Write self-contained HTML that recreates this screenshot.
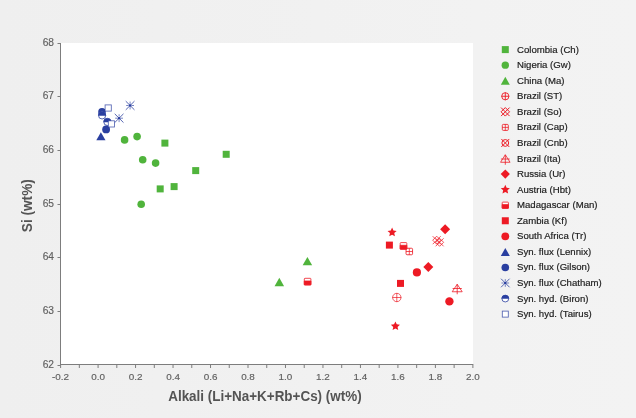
<!DOCTYPE html>
<html><head><meta charset="utf-8"><style>
html,body{margin:0;padding:0;background:#efefef;}
svg{display:block;font-family:"Liberation Sans",sans-serif;will-change:transform;}
</style></head><body>
<svg width="636" height="418" viewBox="0 0 636 418">
<defs><linearGradient id="bg" x1="0" y1="0" x2="1" y2="0"><stop offset="0" stop-color="#efefef"/><stop offset="1" stop-color="#f3f3f3"/></linearGradient></defs>
<rect width="636" height="418" fill="url(#bg)"/>
<rect x="61" y="43" width="412" height="322" fill="#fff"/>
<rect x="161.40" y="139.60" width="7" height="7" fill="#50b43c"/>
<rect x="222.70" y="150.80" width="7" height="7" fill="#50b43c"/>
<rect x="192.20" y="167.10" width="7" height="7" fill="#50b43c"/>
<rect x="170.60" y="183.10" width="7" height="7" fill="#50b43c"/>
<rect x="156.70" y="185.40" width="7" height="7" fill="#50b43c"/>
<circle cx="124.60" cy="139.90" r="3.8" fill="#50b43c"/>
<circle cx="137.10" cy="136.60" r="3.8" fill="#50b43c"/>
<circle cx="142.70" cy="159.70" r="3.8" fill="#50b43c"/>
<circle cx="155.60" cy="163.10" r="3.8" fill="#50b43c"/>
<circle cx="141.20" cy="204.20" r="3.8" fill="#50b43c"/>
<path d="M307.40 256.95L312.15 265.25L302.65 265.25Z" fill="#50b43c"/>
<path d="M279.30 277.85L284.05 286.15L274.55 286.15Z" fill="#50b43c"/>
<rect x="304.30" y="278.30" width="6.60" height="6.60" rx="0.7" fill="#fff" stroke="#ed1a24" stroke-width="0.8"/><path d="M304.30 281.00H310.90V284.90H304.30Z" fill="#ed1a24" stroke="#ed1a24" stroke-width="0.8"/>
<polygon points="392.10,227.60 393.43,230.57 396.67,230.92 394.25,233.10 394.92,236.28 392.10,234.66 389.28,236.28 389.95,233.10 387.53,230.92 390.77,230.57" fill="#ed1a24"/>
<rect x="385.90" y="241.60" width="7" height="7" fill="#ed1a24"/>
<rect x="400.20" y="242.60" width="6.60" height="6.60" rx="0.7" fill="#fff" stroke="#ed1a24" stroke-width="0.8"/><path d="M400.20 245.30H406.80V249.20H400.20Z" fill="#ed1a24" stroke="#ed1a24" stroke-width="0.8"/>
<rect x="406.05" y="248.25" width="6.50" height="6.50" rx="1" fill="none" stroke="#ed1a24" stroke-width="0.85"/><path d="M409.30 248.25V254.75M406.05 251.50H412.55" stroke="#ed1a24" stroke-width="0.75"/>
<path d="M445.10 224.30L450.10 229.30L445.10 234.30L440.10 229.30Z" fill="#ed1a24"/>
<path d="M432.70 236.20L440.70 244.20M440.70 236.20L432.70 244.20M432.70 240.20L436.70 244.20L440.70 240.20L436.70 236.20Z" fill="none" stroke="#ed1a24" stroke-width="0.75"/>
<path d="M435.60 238.30L443.60 246.30M443.60 238.30L435.60 246.30M435.60 242.30L439.60 246.30L443.60 242.30L439.60 238.30Z" fill="none" stroke="#ed1a24" stroke-width="0.75"/>
<path d="M428.30 262.10L433.30 267.10L428.30 272.10L423.30 267.10Z" fill="#ed1a24"/>
<circle cx="416.90" cy="272.40" r="4.1" fill="#ed1a24"/>
<rect x="397.00" y="279.90" width="7" height="7" fill="#ed1a24"/>
<circle cx="396.80" cy="297.50" r="4.2" fill="none" stroke="#ed1a24" stroke-width="0.7"/><path d="M392.30 297.50H401.30M396.80 293.00V302.00" stroke="#ed1a24" stroke-width="0.7"/>
<path d="M457.20 284.25L462.20 291.75H452.20Z" fill="none" stroke="#ed1a24" stroke-width="0.8" stroke-linejoin="round"/><path d="M457.20 284.25V294.25M452.60 288.50H461.80" stroke="#ed1a24" stroke-width="0.8"/>
<circle cx="449.40" cy="301.40" r="4.2" fill="#ed1a24"/>
<polygon points="395.40,321.40 396.73,324.37 399.97,324.72 397.55,326.90 398.22,330.08 395.40,328.46 392.58,330.08 393.25,326.90 390.83,324.72 394.07,324.37" fill="#ed1a24"/>
<path d="M125.73 101.13L134.47 109.87M134.47 101.13L125.73 109.87" stroke="#2a3fa0" stroke-width="0.8"/><path d="M126.19 105.50H128.50M131.70 105.50H134.01M130.10 101.59V103.90M130.10 107.10V109.41" stroke="#2a3fa0" stroke-width="0.8" stroke-opacity="0.8"/><circle cx="130.10" cy="105.50" r="1.3" fill="#2a3fa0"/>
<path d="M114.73 113.83L123.47 122.57M123.47 113.83L114.73 122.57" stroke="#2a3fa0" stroke-width="0.8"/><path d="M115.19 118.20H117.50M120.70 118.20H123.01M119.10 114.29V116.60M119.10 119.80V122.11" stroke="#2a3fa0" stroke-width="0.8" stroke-opacity="0.8"/><circle cx="119.10" cy="118.20" r="1.3" fill="#2a3fa0"/>
<circle cx="102.00" cy="111.90" r="3.8" fill="#2a3fa0"/>
<circle cx="102.10" cy="115.40" r="3.60" fill="#fff" stroke="#2a3fa0" stroke-width="0.8"/><path d="M98.10 115.70A4.0 4.0 0 0 1 106.10 115.70Z" fill="#2a3fa0"/>
<rect x="105.10" y="104.90" width="6.20" height="6.20" fill="#fff" stroke="#2a3fa0" stroke-width="0.85" stroke-opacity="0.8"/>
<circle cx="107.40" cy="121.90" r="3.60" fill="#fff" stroke="#2a3fa0" stroke-width="0.8"/><path d="M103.40 122.20A4.0 4.0 0 0 1 111.40 122.20Z" fill="#2a3fa0"/>
<circle cx="106.10" cy="129.40" r="3.9" fill="#2a3fa0"/>
<rect x="108.30" y="120.80" width="6.20" height="6.20" fill="#fff" stroke="#2a3fa0" stroke-width="0.85" stroke-opacity="0.8"/>
<path d="M100.90 132.25L105.50 140.35L96.30 140.35Z" fill="#2a3fa0"/>
<path d="M60.5 43V365M60 364.5H473.3" stroke="#7d7d7d" stroke-width="1" fill="none"/>
<path d="M57.5 43.50H60.5M57.5 96.50H60.5M57.5 150.50H60.5M57.5 204.50H60.5M57.5 257.50H60.5M57.5 311.50H60.5M57.5 365.50H60.5M60.60 364.5V368M79.34 364.5V368M98.08 364.5V368M116.82 364.5V368M135.56 364.5V368M154.30 364.5V368M173.04 364.5V368M191.78 364.5V368M210.52 364.5V368M229.26 364.5V368M248.00 364.5V368M266.74 364.5V368M285.48 364.5V368M304.22 364.5V368M322.96 364.5V368M341.70 364.5V368M360.44 364.5V368M379.18 364.5V368M397.92 364.5V368M416.66 364.5V368M435.40 364.5V368M454.14 364.5V368M472.88 364.5V368" stroke="#7d7d7d" stroke-width="1" fill="none"/>
<text x="54" y="45.50" text-anchor="end" font-size="10.2" fill="#606060" stroke="#606060" stroke-width="0.15">68</text>
<text x="54" y="99.20" text-anchor="end" font-size="10.2" fill="#606060" stroke="#606060" stroke-width="0.15">67</text>
<text x="54" y="152.90" text-anchor="end" font-size="10.2" fill="#606060" stroke="#606060" stroke-width="0.15">66</text>
<text x="54" y="206.60" text-anchor="end" font-size="10.2" fill="#606060" stroke="#606060" stroke-width="0.15">65</text>
<text x="54" y="260.30" text-anchor="end" font-size="10.2" fill="#606060" stroke="#606060" stroke-width="0.15">64</text>
<text x="54" y="314.00" text-anchor="end" font-size="10.2" fill="#606060" stroke="#606060" stroke-width="0.15">63</text>
<text x="54" y="367.70" text-anchor="end" font-size="10.2" fill="#606060" stroke="#606060" stroke-width="0.15">62</text>
<text x="60.60" y="379.6" text-anchor="middle" font-size="9.9" fill="#606060" stroke="#606060" stroke-width="0.15">-0.2</text>
<text x="98.08" y="379.6" text-anchor="middle" font-size="9.9" fill="#606060" stroke="#606060" stroke-width="0.15">0.0</text>
<text x="135.56" y="379.6" text-anchor="middle" font-size="9.9" fill="#606060" stroke="#606060" stroke-width="0.15">0.2</text>
<text x="173.04" y="379.6" text-anchor="middle" font-size="9.9" fill="#606060" stroke="#606060" stroke-width="0.15">0.4</text>
<text x="210.52" y="379.6" text-anchor="middle" font-size="9.9" fill="#606060" stroke="#606060" stroke-width="0.15">0.6</text>
<text x="248.00" y="379.6" text-anchor="middle" font-size="9.9" fill="#606060" stroke="#606060" stroke-width="0.15">0.8</text>
<text x="285.48" y="379.6" text-anchor="middle" font-size="9.9" fill="#606060" stroke="#606060" stroke-width="0.15">1.0</text>
<text x="322.96" y="379.6" text-anchor="middle" font-size="9.9" fill="#606060" stroke="#606060" stroke-width="0.15">1.2</text>
<text x="360.44" y="379.6" text-anchor="middle" font-size="9.9" fill="#606060" stroke="#606060" stroke-width="0.15">1.4</text>
<text x="397.92" y="379.6" text-anchor="middle" font-size="9.9" fill="#606060" stroke="#606060" stroke-width="0.15">1.6</text>
<text x="435.40" y="379.6" text-anchor="middle" font-size="9.9" fill="#606060" stroke="#606060" stroke-width="0.15">1.8</text>
<text x="472.88" y="379.6" text-anchor="middle" font-size="9.9" fill="#606060" stroke="#606060" stroke-width="0.15">2.0</text>
<text x="168.2" y="400.6" font-size="14" font-weight="bold" fill="#545454" textLength="193.5" lengthAdjust="spacingAndGlyphs">Alkali (Li+Na+K+Rb+Cs) (wt%)</text>
<text transform="translate(31.9 232.2) rotate(-90)" x="0" y="0" font-size="14" font-weight="bold" fill="#545454" textLength="53" lengthAdjust="spacingAndGlyphs">Si (wt%)</text>
<rect x="501.80" y="46.10" width="7" height="7" fill="#50b43c"/>
<text x="517" y="52.60" font-size="9.6" fill="#202020" stroke="#202020" stroke-width="0.18">Colombia (Ch)</text>
<circle cx="505.30" cy="65.16" r="3.7" fill="#50b43c"/>
<text x="517" y="68.16" font-size="9.6" fill="#202020" stroke="#202020" stroke-width="0.18">Nigeria (Gw)</text>
<path d="M505.30 76.72L509.80 84.72L500.80 84.72Z" fill="#50b43c"/>
<text x="517" y="83.72" font-size="9.6" fill="#202020" stroke="#202020" stroke-width="0.18">China (Ma)</text>
<circle cx="505.30" cy="96.28" r="3.6" fill="none" stroke="#ed1a24" stroke-width="0.9"/><path d="M501.40 96.28H509.20M505.30 92.38V100.18" stroke="#ed1a24" stroke-width="0.9"/>
<text x="517" y="99.28" font-size="9.6" fill="#202020" stroke="#202020" stroke-width="0.18">Brazil (ST)</text>
<path d="M501.05 107.59L509.55 116.09M509.55 107.59L501.05 116.09M501.05 111.84L505.30 116.09L509.55 111.84L505.30 107.59Z" fill="none" stroke="#ed1a24" stroke-width="1"/>
<text x="517" y="114.84" font-size="9.6" fill="#202020" stroke="#202020" stroke-width="0.18">Brazil (So)</text>
<rect x="502.30" y="124.40" width="6.00" height="6.00" rx="1" fill="none" stroke="#ed1a24" stroke-width="0.85"/><path d="M505.30 124.40V130.40M502.30 127.40H508.30" stroke="#ed1a24" stroke-width="0.75"/>
<text x="517" y="130.40" font-size="9.6" fill="#202020" stroke="#202020" stroke-width="0.18">Brazil (Cap)</text>
<path d="M501.30 138.96L509.30 146.96M509.30 138.96L501.30 146.96" fill="none" stroke="#ed1a24" stroke-width="1"/><circle cx="505.30" cy="142.96" r="3.40" fill="none" stroke="#ed1a24" stroke-width="1"/>
<text x="517" y="145.96" font-size="9.6" fill="#202020" stroke="#202020" stroke-width="0.18">Brazil (Cnb)</text>
<path d="M505.30 154.77L510.05 162.27H500.55Z" fill="none" stroke="#ed1a24" stroke-width="0.8" stroke-linejoin="round"/><path d="M505.30 154.77V164.77M500.95 159.02H509.65" stroke="#ed1a24" stroke-width="0.8"/>
<text x="517" y="161.52" font-size="9.6" fill="#202020" stroke="#202020" stroke-width="0.18">Brazil (Ita)</text>
<path d="M505.30 169.48L509.90 174.08L505.30 178.68L500.70 174.08Z" fill="#ed1a24"/>
<text x="517" y="177.08" font-size="9.6" fill="#202020" stroke="#202020" stroke-width="0.18">Russia (Ur)</text>
<polygon points="505.30,184.84 506.63,187.81 509.87,188.16 507.45,190.34 508.12,193.52 505.30,191.90 502.48,193.52 503.15,190.34 500.73,188.16 503.97,187.81" fill="#ed1a24"/>
<text x="517" y="192.64" font-size="9.6" fill="#202020" stroke="#202020" stroke-width="0.18">Austria (Hbt)</text>
<rect x="502.20" y="202.10" width="6.20" height="6.20" rx="0.7" fill="#fff" stroke="#ed1a24" stroke-width="0.8"/><path d="M502.20 204.60H508.40V208.30H502.20Z" fill="#ed1a24" stroke="#ed1a24" stroke-width="0.8"/>
<text x="517" y="208.20" font-size="9.6" fill="#202020" stroke="#202020" stroke-width="0.18">Madagascar (Man)</text>
<rect x="501.80" y="217.26" width="7" height="7" fill="#ed1a24"/>
<text x="517" y="223.76" font-size="9.6" fill="#202020" stroke="#202020" stroke-width="0.18">Zambia (Kf)</text>
<circle cx="505.30" cy="236.32" r="3.9" fill="#ed1a24"/>
<text x="517" y="239.32" font-size="9.6" fill="#202020" stroke="#202020" stroke-width="0.18">South Africa (Tr)</text>
<path d="M505.30 247.88L509.80 255.88L500.80 255.88Z" fill="#2a3fa0"/>
<text x="517" y="254.88" font-size="9.6" fill="#202020" stroke="#202020" stroke-width="0.18">Syn. flux (Lennix)</text>
<circle cx="505.30" cy="267.44" r="3.8" fill="#2a3fa0"/>
<text x="517" y="270.44" font-size="9.6" fill="#202020" stroke="#202020" stroke-width="0.18">Syn. flux (Gilson)</text>
<path d="M501.03 278.73L509.57 287.27M509.57 278.73L501.03 287.27" stroke="#2a3fa0" stroke-width="0.8"/><path d="M501.48 283.00H503.70M506.90 283.00H509.12M505.30 279.18V281.40M505.30 284.60V286.82" stroke="#2a3fa0" stroke-width="0.8" stroke-opacity="0.8"/><circle cx="505.30" cy="283.00" r="1.3" fill="#2a3fa0"/>
<text x="517" y="286.00" font-size="9.6" fill="#202020" stroke="#202020" stroke-width="0.18">Syn. flux (Chatham)</text>
<circle cx="505.30" cy="298.56" r="3.40" fill="#fff" stroke="#2a3fa0" stroke-width="0.8"/><path d="M501.50 298.86A3.8 3.8 0 0 1 509.10 298.86Z" fill="#2a3fa0"/>
<text x="517" y="301.56" font-size="9.6" fill="#202020" stroke="#202020" stroke-width="0.18">Syn. hyd. (Biron)</text>
<rect x="502.30" y="311.12" width="6.00" height="6.00" fill="#fff" stroke="#2a3fa0" stroke-width="0.85" stroke-opacity="0.8"/>
<text x="517" y="317.12" font-size="9.6" fill="#202020" stroke="#202020" stroke-width="0.18">Syn. hyd. (Tairus)</text>
</svg>
</body></html>
